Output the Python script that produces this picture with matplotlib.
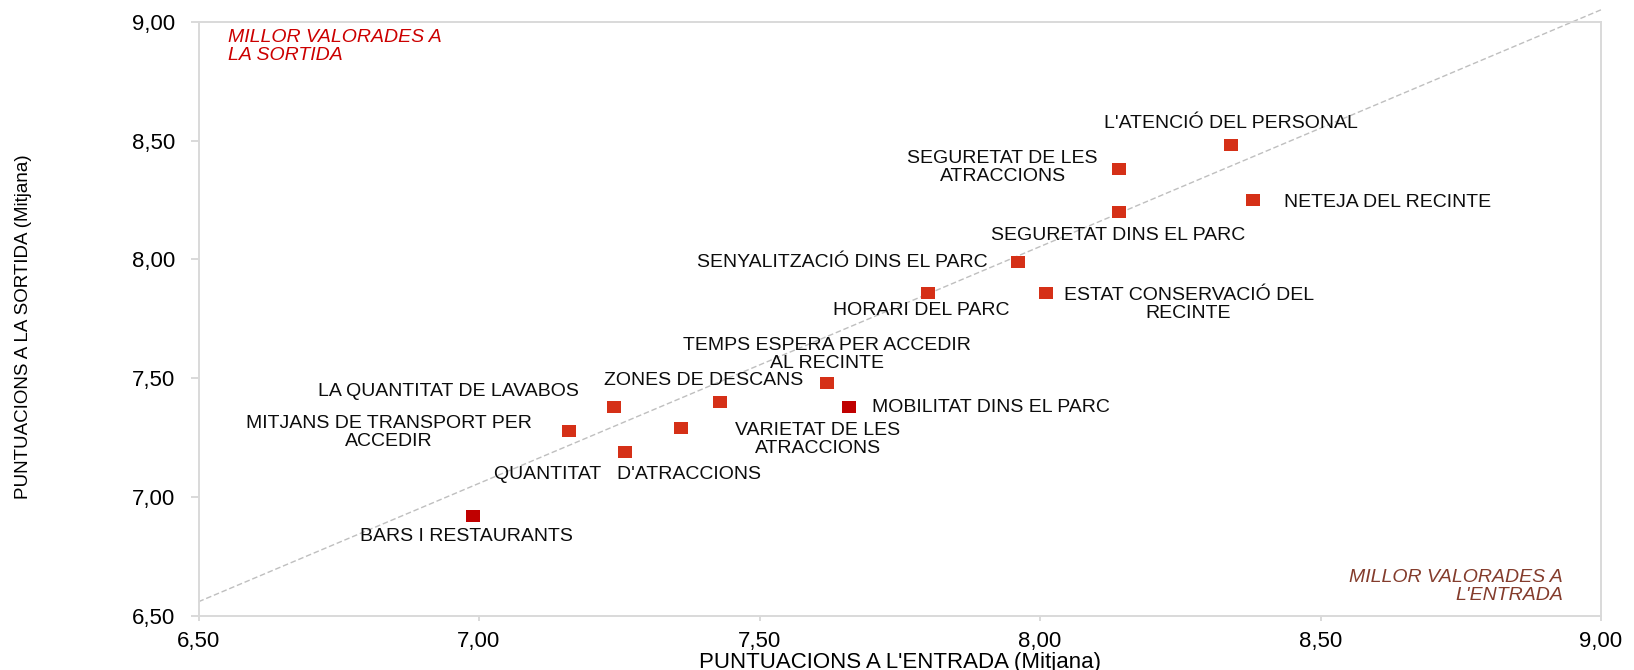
import matplotlib
matplotlib.use("Agg")
import matplotlib.pyplot as plt
from matplotlib.ticker import FixedLocator, FuncFormatter

# ---------------- data ----------------
categories = [
    "L'ATENCIÓ DEL PERSONAL",
    "SEGURETAT DE LES\nATRACCIONS",
    "NETEJA DEL RECINTE",
    "SEGURETAT DINS EL PARC",
    "SENYALITZACIÓ DINS EL PARC",
    "HORARI DEL PARC",
    "ESTAT CONSERVACIÓ DEL\nRECINTE",
    "TEMPS ESPERA PER ACCEDIR\nAL RECINTE",
    "ZONES DE DESCANS",
    "LA QUANTITAT DE LAVABOS",
    "MITJANS DE TRANSPORT PER\nACCEDIR",
    "VARIETAT DE LES\nATRACCIONS",
    "MOBILITAT DINS EL PARC",
    "QUANTITAT   D'ATRACCIONS",
    "BARS I RESTAURANTS",
]
entrada = [8.34, 8.14, 8.38, 8.14, 7.96, 7.80, 8.01, 7.62, 7.43, 7.24, 7.16, 7.36, 7.66, 7.26, 6.99]
sortida = [8.48, 8.38, 8.25, 8.20, 7.99, 7.86, 7.86, 7.48, 7.40, 7.38, 7.28, 7.29, 7.38, 7.19, 6.92]
destacat = [False, False, False, False, False, False, False, False, False, False, False, False, True, False, True]

diag_x = [6.50, 9.00]
diag_y = [6.56, 9.05]

x_ticks = [6.5, 7.0, 7.5, 8.0, 8.5, 9.0]
y_ticks = [6.5, 7.0, 7.5, 8.0, 8.5, 9.0]

x_label = "PUNTUACIONS A L'ENTRADA (Mitjana)"
y_label = "PUNTUACIONS A LA SORTIDA (Mitjana)"
note_top = "MILLOR VALORADES A\nLA SORTIDA"
note_bottom = "MILLOR VALORADES A\nL'ENTRADA"

# label placement: pixel offsets (of the last line's baseline) from the marker, alignment
label_layout = [
    (0, 17, "center"),
    (-116, -12, "center"),
    (31, -7, "left"),
    (0, -28, "center"),
    (-30, -5.5, "right"),
    (-7, -22, "center"),
    (143, -25, "center"),
    (0, 15.3, "center"),
    (-17, 17.5, "center"),
    (-35, 10.5, "right"),
    (-180, -15.5, "center"),
    (137, -24.8, "center"),
    (23, -5.5, "left"),
    (3, -27.5, "center"),
    (-7, -24.5, "center"),
]

# ---------------- style ----------------
FONT = "Liberation Sans"
plt.rcParams["font.family"] = [FONT, "DejaVu Sans"]
W, H, DPI = 1634, 670, 100
fig = plt.figure(figsize=(W / DPI, H / DPI), dpi=DPI)
L, R, T, B = 198.5, 1601, 21.7, 616
ax = fig.add_axes([L / W, 1 - B / H, (R - L) / W, (B - T) / H])

ax.set_xlim(6.5, 9.0)
ax.set_ylim(6.5, 9.0)

spine_col = "#D9D9D9"
for s in ax.spines.values():
    s.set_color(spine_col)
    s.set_linewidth(1.4)

fmt = FuncFormatter(lambda v, p: f"{v:.2f}".replace(".", ","))
ax.xaxis.set_major_locator(FixedLocator(x_ticks))
ax.yaxis.set_major_locator(FixedLocator(y_ticks))
ax.xaxis.set_major_formatter(fmt)
ax.yaxis.set_major_formatter(fmt)
ax.tick_params(axis="x", direction="out", length=3.6, width=1.4, color=spine_col,
               labelsize=16, pad=7, labelcolor="#000000")
ax.tick_params(axis="y", direction="out", length=5.8, width=1.4, color=spine_col,
               labelsize=16, pad=11, labelcolor="#000000")

# diagonal reference line
ax.plot(diag_x, diag_y, color="#BFBFBF", lw=1.0, ls=(0, (4, 2)), clip_on=False, zorder=1)

# markers
rect = [(-1, -0.786), (1, -0.786), (1, 0.786), (-1, 0.786), (-1, -0.786)]
col_main = "#D53017"
col_dark = "#C00000"
for xv, yv, d in zip(entrada, sortida, destacat):
    ax.plot([xv], [yv], ls="none", marker=rect, markersize=10.1,
            markerfacecolor=col_dark if d else col_main, markeredgewidth=0, zorder=3)

# labels
LS = 1.08
for name, xv, yv, (dx, dy, ha) in zip(categories, entrada, sortida, label_layout):
    ax.annotate(name, (xv, yv), xytext=(dx, dy), textcoords="offset pixels",
                ha=ha, va="baseline", multialignment="center", fontsize=14,
                color="#0D0D0D", linespacing=LS, zorder=4)

# corner notes (anchored at the last line's baseline)
ax.text((227.7 - L) / (R - L), (B - 60) / (B - T), note_top, transform=ax.transAxes,
        ha="left", va="baseline", fontsize=14, style="italic", color="#CC0000",
        linespacing=LS)
ax.text((1563 - L) / (R - L), (B - 600) / (B - T), note_bottom, transform=ax.transAxes,
        ha="right", va="baseline", multialignment="right", fontsize=14, style="italic",
        color="#843C2C", linespacing=LS)

# axis titles
fig.text(((L + R) / 2) / W, 1 - 668 / H, x_label, ha="center", va="baseline",
         fontsize=16, color="#000000")
fig.text(24 / W, 1 - 327 / H, y_label, ha="center", va="center", rotation=90,
         fontsize=13.5, color="#000000")

fig.savefig("out.png", dpi=DPI)
